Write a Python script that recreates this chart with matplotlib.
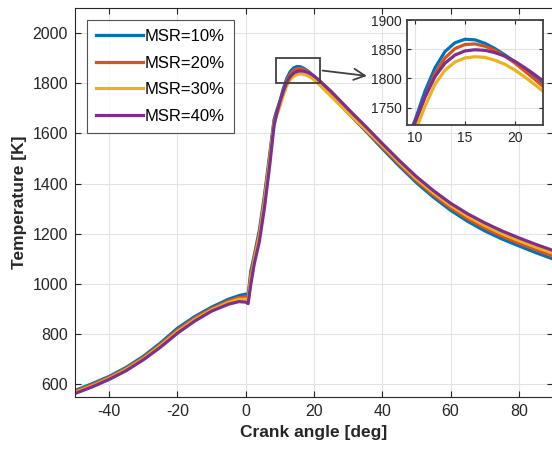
import numpy as np
import matplotlib.pyplot as plt
from matplotlib.patches import Rectangle

# crank angle [deg] and temperature [K]
crank = [-50, -45, -40, -35, -30, -25, -20, -15, -10, -5,
         -2, 0, 0.7, 1.5, 2.5, 4, 5.5, 7, 8.3, 9,
         10, 11, 12, 13, 14, 15, 16, 17, 18, 19, 20, 21, 22, 23,
         25, 28, 31, 35, 40, 45, 50, 55, 60, 65, 70, 75, 80, 85, 90]

t_msr10 = [576, 603, 632, 668, 712, 765, 824, 870, 908, 940,
           954, 960, 957, 1052, 1115, 1215, 1355, 1515, 1655, 1688,
           1728, 1778, 1818, 1846, 1861, 1867, 1866, 1860, 1851, 1840, 1828, 1814, 1800, 1786,
           1758, 1712, 1668, 1612, 1540, 1470, 1404, 1346, 1294, 1250, 1212, 1180, 1152, 1125, 1100]
t_msr20 = [572, 599, 628, 664, 707, 759, 817, 864, 902, 933,
           946, 950, 946, 1035, 1105, 1200, 1340, 1500, 1648, 1680,
           1722, 1768, 1808, 1835, 1851, 1858, 1859, 1855, 1848, 1838, 1826, 1812, 1798, 1783,
           1754, 1710, 1668, 1614, 1546, 1477, 1412, 1355, 1304, 1260, 1223, 1191, 1163, 1137, 1112]
t_msr30 = [568, 594, 624, 660, 702, 754, 810, 858, 897, 927,
           939, 940, 935, 1020, 1095, 1190, 1328, 1490, 1640, 1668,
           1708, 1752, 1790, 1814, 1828, 1835, 1837, 1836, 1831, 1824, 1814, 1802, 1789, 1775,
           1748, 1708, 1668, 1618, 1552, 1484, 1419, 1363, 1313, 1270, 1233, 1201, 1173, 1147, 1123]
t_msr40 = [564, 590, 620, 655, 698, 748, 804, 852, 892, 920,
           930, 928, 922, 1000, 1080, 1170, 1305, 1470, 1632, 1675,
           1725, 1768, 1803, 1826, 1840, 1847, 1849, 1848, 1844, 1838, 1829, 1818, 1806, 1793,
           1768, 1726, 1684, 1630, 1560, 1492, 1428, 1372, 1322, 1280, 1244, 1212, 1184, 1158, 1134]

labels = ['MSR=10%', 'MSR=20%', 'MSR=30%', 'MSR=40%']
colors = ['#0072BD', '#D95319', '#EDB120', '#7E2F8E']
series = [t_msr10, t_msr20, t_msr30, t_msr40]

txt = '#262626'
plt.rcParams['font.family'] = 'Liberation Sans'
plt.rcParams['axes.unicode_minus'] = False

fig = plt.figure(figsize=(5.52, 4.55), dpi=100)
ax = fig.add_axes([75/552, 58/455, 478/552, 389/455])

for y, c, lab in zip(series, colors, labels):
    ax.plot(crank, y, color=c, lw=2.3, label=lab)

ax.set_xlim(-50, 90)
ax.set_ylim(550, 2100)
ax.set_xticks([-40, -20, 0, 20, 40, 60, 80])
ax.set_yticks(range(600, 2001, 200))
ax.grid(True, color='#e3e3e3', lw=0.8)
ax.tick_params(direction='in', length=4, top=True, right=True, labelsize=11.5,
               colors=txt, width=0.8, pad=5)
for s in ax.spines.values():
    s.set_color(txt)
    s.set_linewidth(0.8)
ax.set_xlabel('Crank angle [deg]', fontsize=12.5, fontweight='bold', color=txt, labelpad=4)
ax.set_ylabel('Temperature [K]', fontsize=12.5, fontweight='bold', color=txt, labelpad=4)

leg = ax.legend(loc='upper left', bbox_to_anchor=(0.025, 0.97), fontsize=12,
                handlelength=2.8, handletextpad=0.1, borderaxespad=0,
                fancybox=False, labelspacing=0.7, borderpad=0.55)
leg.get_frame().set_edgecolor(txt)
leg.get_frame().set_linewidth(0.8)

# zoom box and arrow
ax.add_patch(Rectangle((9, 1800), 12.7, 100, fill=False, edgecolor='#404040', lw=1.3, zorder=5))
ax.annotate('', xy=(36.3, 1828), xytext=(21.7, 1852),
            arrowprops=dict(arrowstyle='->', color='#404040', lw=1.3, mutation_scale=20))

# inset
axi = fig.add_axes([407/552, (455-125)/455, 136/552, 105/455])
for y, c in zip(series, colors):
    axi.plot(crank, y, color=c, lw=2.3)
axi.set_xlim(9.2, 22.8)
axi.set_ylim(1720, 1900)
axi.set_xticks([10, 15, 20])
axi.set_yticks([1750, 1800, 1850, 1900])
axi.grid(True, color='#e3e3e3', lw=0.8)
axi.tick_params(direction='in', length=3, top=True, right=True, labelsize=10,
                colors=txt, width=0.8, pad=4)
for s in axi.spines.values():
    s.set_color('#404040')
    s.set_linewidth(1.3)

plt.savefig('out.png', dpi=100)
